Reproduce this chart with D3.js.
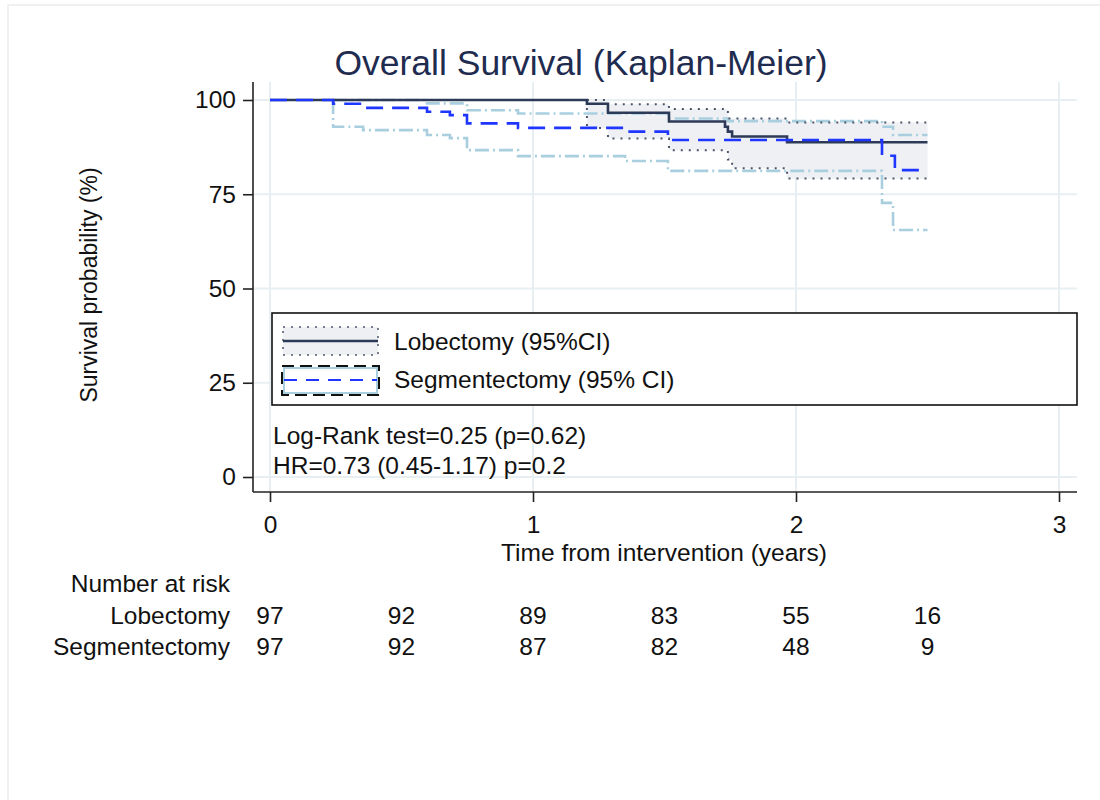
<!DOCTYPE html>
<html>
<head>
<meta charset="utf-8">
<script src="https://cdn.jsdelivr.net/npm/d3@7"></script>
<style>
  html, body { margin: 0; padding: 0; background: #fff; }
  svg { display: block; font-family: "Liberation Sans", Arial, Helvetica, sans-serif; }
</style>
</head>
<body>
<svg id="chart" width="1100" height="800"></svg>
<script>
// Kaplan-Meier estimates (time in years, survival in %)
const lobTime      = [0, 1.205, 1.285, 1.517, 1.730, 1.741, 1.757, 1.966, 2.5];
const lobSurv      = [100, 99.0, 96.6, 94.3, 92.9, 91.6, 90.3, 88.8, 88.8];
const lobUpperTime = [1.205, 1.285, 1.517, 1.741, 1.966, 2.5];
const lobUpper     = [100, 98.9, 97.6, 95.1, 94.0, 94.0];
const lobLowerTime = [1.205, 1.285, 1.517, 1.741, 1.757, 1.966, 2.5];
const lobLower     = [92.6, 89.8, 86.7, 84.2, 81.9, 79.2, 79.2];

const segTime      = [0, 0.24, 0.354, 0.597, 0.684, 0.749, 0.943, 1.35, 1.513, 2.327, 2.376, 2.5];
const segSurv      = [100, 99.0, 97.9, 96.9, 96.0, 93.8, 92.6, 91.6, 89.4, 85.2, 81.4, 81.4];
const segUpperTime = [0.24, 0.597, 0.749, 0.943, 1.513, 1.741, 2.327, 2.369, 2.5];
const segUpper     = [100, 99.1, 97.3, 96.4, 95.1, 94.4, 92.9, 90.7, 90.7];
const segLowerTime = [0.24, 0.354, 0.597, 0.684, 0.749, 0.943, 1.35, 1.513, 2.327, 2.369, 2.5];
const segLower     = [92.9, 92.0, 90.7, 89.9, 86.7, 85.1, 83.8, 81.2, 72.7, 65.5, 65.5];

// Numbers at risk
const riskTimes = [0, 0.5, 1, 1.5, 2, 2.5];
const riskLob   = [97, 92, 89, 83, 55, 16];
const riskSeg   = [97, 92, 87, 82, 48, 9];

const xTicks = [0, 1, 2, 3];
const yTicks = [0, 25, 50, 75, 100];

const svg = d3.select("#chart");
const FONT = 24.5;

// faint outer frame
svg.append("rect").attr("x", 8).attr("y", 5).attr("width", 1120).attr("height", 820)
  .attr("fill", "none").attr("stroke", "#ececec").attr("stroke-width", 1.5);

const x = d3.scaleLinear().domain([0, 3]).range([270, 1059]);
const y = d3.scaleLinear().domain([0, 100]).range([477, 100]);

const region = { left: 253, right: 1077, top: 82, bottom: 492 };

// gridlines
const grid = svg.append("g");
grid.selectAll("line.h").data(yTicks).join("line")
  .attr("x1", region.left).attr("x2", region.right)
  .attr("y1", d => y(d)).attr("y2", d => y(d))
  .attr("stroke", "#e8eff2").attr("stroke-width", 2);
grid.selectAll("line.v").data(xTicks).join("line")
  .attr("y1", region.top).attr("y2", region.bottom)
  .attr("x1", d => x(d)).attr("x2", d => x(d))
  .attr("stroke", "#e8eff2").attr("stroke-width", 2);

const pairs = (t, v) => t.map((d, i) => [d, v[i]]);
const stepLine = d3.line().x(d => x(d[0])).y(d => y(d[1])).curve(d3.curveStepAfter);

// step-function lookup used to shade the band between the lobectomy limits
const stepAt = (t, v, tt) => { let r = v[0]; for (let i = 0; i < t.length; i++) if (t[i] <= tt) r = v[i]; return r; };
const bandTimes = Array.from(new Set([...lobUpperTime, ...lobLowerTime])).sort((a, b) => a - b);
const band = bandTimes.map(t => [t, stepAt(lobLowerTime, lobLower, t), stepAt(lobUpperTime, lobUpper, t)]);
const bandArea = d3.area().x(d => x(d[0])).y0(d => y(d[1])).y1(d => y(d[2])).curve(d3.curveStepAfter);

const plot = svg.append("g");
plot.append("path").datum(band).attr("d", bandArea).attr("fill", "#eef0f4");

const CI_SEG = { stroke: "#a9cfdf", width: 2.6, dash: "14,4,2,4" };
const CI_LOB = { stroke: "#4d566b", width: 2, dash: "2,6" };

// vertical drop at the first event time, then the step path
const ciLine = (t, v, top) => {
  const p = stepLine(pairs(t, v));
  return `M${x(t[0])},${y(top)}L` + p.slice(1);
};

[[segUpperTime, segUpper], [segLowerTime, segLower]].forEach(([t, v]) => {
  plot.append("path").attr("d", ciLine(t, v, 100))
    .attr("fill", "none").attr("stroke", CI_SEG.stroke).attr("stroke-width", CI_SEG.width)
    .attr("stroke-dasharray", CI_SEG.dash);
});
[[lobUpperTime, lobUpper], [lobLowerTime, lobLower]].forEach(([t, v]) => {
  plot.append("path").attr("d", ciLine(t, v, 100))
    .attr("fill", "none").attr("stroke", CI_LOB.stroke).attr("stroke-width", CI_LOB.width)
    .attr("stroke-dasharray", CI_LOB.dash);
});
plot.append("path").datum(pairs(lobTime, lobSurv)).attr("d", stepLine)
  .attr("fill", "none").attr("stroke", "#2d3a57").attr("stroke-width", 2.6);
plot.append("path").datum(pairs(segTime, segSurv)).attr("d", stepLine)
  .attr("fill", "none").attr("stroke", "#1f36ff").attr("stroke-width", 2.6)
  .attr("stroke-dasharray", "17,9");

// axes
const yAxis = svg.append("g").attr("transform", `translate(${region.left},0)`)
  .call(d3.axisLeft(y).tickValues(yTicks).tickFormat(d3.format("d")).tickSize(10).tickPadding(7));
yAxis.select(".domain").attr("d", `M0,${region.top}V${region.bottom}`);
const xAxis = svg.append("g").attr("transform", `translate(0,${region.bottom})`)
  .call(d3.axisBottom(x).tickValues(xTicks).tickFormat(d3.format("d")).tickSize(10).tickPadding(14));
xAxis.select(".domain").attr("d", `M${region.left},0H${region.right}`);
[yAxis, xAxis].forEach(a => {
  a.selectAll(".domain, .tick line").attr("stroke", "#222").attr("stroke-width", 1.6);
  a.selectAll("text").attr("font-size", FONT).attr("fill", "#111")
    .attr("font-family", "'Liberation Sans', Arial, Helvetica, sans-serif");
});

// title and axis titles
svg.append("text").attr("x", 581).attr("y", 75).attr("text-anchor", "middle")
  .attr("font-size", 35.5).attr("fill", "#1f2c4f").text("Overall Survival (Kaplan-Meier)");
svg.append("text").attr("x", 664).attr("y", 561).attr("text-anchor", "middle")
  .attr("font-size", FONT).attr("fill", "#111").text("Time from intervention (years)");
svg.append("text").attr("transform", "translate(97,285) rotate(-90)").attr("text-anchor", "middle")
  .attr("font-size", 23).attr("fill", "#111").text("Survival probability (%)");

// legend
const lg = svg.append("g");
lg.append("rect").attr("x", 272).attr("y", 313).attr("width", 805).attr("height", 92)
  .attr("fill", "#fff").attr("stroke", "#111").attr("stroke-width", 1.6);
lg.append("rect").attr("x", 283).attr("y", 327).attr("width", 95).attr("height", 28)
  .attr("fill", "#eef0f4").attr("stroke", CI_LOB.stroke).attr("stroke-width", 1.5)
  .attr("stroke-dasharray", CI_LOB.dash);
lg.append("line").attr("x1", 283).attr("x2", 378).attr("y1", 341).attr("y2", 341)
  .attr("stroke", "#2d3a57").attr("stroke-width", 2.6);
lg.append("rect").attr("x", 284).attr("y", 368).attr("width", 93).attr("height", 25)
  .attr("fill", "#fff").attr("stroke", CI_SEG.stroke).attr("stroke-width", 2);
lg.append("rect").attr("x", 282).attr("y", 366).attr("width", 97).attr("height", 29)
  .attr("fill", "none").attr("stroke", "#111").attr("stroke-width", 2)
  .attr("stroke-dasharray", "12,6");
lg.append("line").attr("x1", 284).attr("x2", 377).attr("y1", 380).attr("y2", 380)
  .attr("stroke", "#1f36ff").attr("stroke-width", 2.2).attr("stroke-dasharray", "13,9");
lg.append("text").attr("x", 394).attr("y", 350).attr("font-size", FONT).attr("fill", "#111")
  .text("Lobectomy (95%CI)");
lg.append("text").attr("x", 394).attr("y", 388).attr("font-size", FONT).attr("fill", "#111")
  .text("Segmentectomy (95% CI)");

// test statistics
svg.append("text").attr("x", 273).attr("y", 444).attr("font-size", FONT).attr("fill", "#111")
  .text("Log-Rank test=0.25 (p=0.62)");
svg.append("text").attr("x", 273).attr("y", 474).attr("font-size", FONT).attr("fill", "#111")
  .text("HR=0.73 (0.45-1.17) p=0.2");

// number at risk table
const rt = svg.append("g").attr("font-size", FONT).attr("fill", "#111");
rt.append("text").attr("x", 230).attr("y", 592).attr("text-anchor", "end").text("Number at risk");
rt.append("text").attr("x", 230).attr("y", 624).attr("text-anchor", "end").text("Lobectomy");
rt.append("text").attr("x", 230).attr("y", 655).attr("text-anchor", "end").text("Segmentectomy");
rt.selectAll("text.lob").data(riskTimes).join("text").attr("class", "lob")
  .attr("x", d => x(d)).attr("y", 624).attr("text-anchor", "middle")
  .text((d, i) => riskLob[i]);
rt.selectAll("text.seg").data(riskTimes).join("text").attr("class", "seg")
  .attr("x", d => x(d)).attr("y", 655).attr("text-anchor", "middle")
  .text((d, i) => riskSeg[i]);
</script>
</body>
</html>
